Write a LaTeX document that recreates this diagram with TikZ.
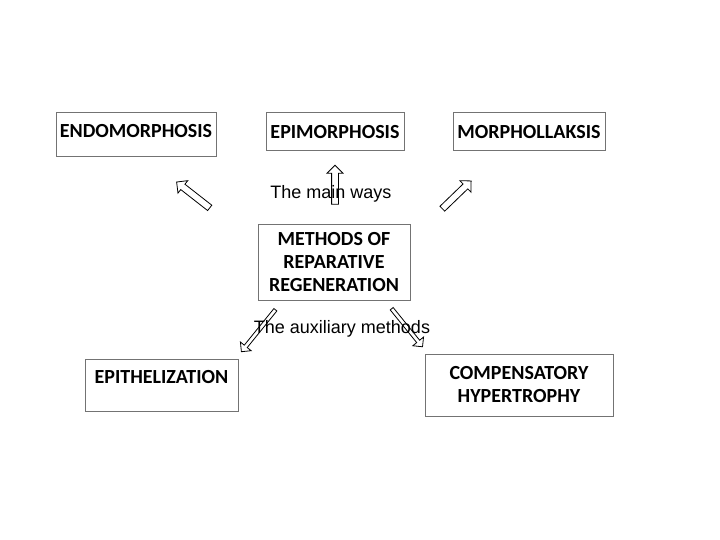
\documentclass[tikz,border=0pt]{standalone}
\usepackage{fontspec}
\setmainfont{Carlito}
\newfontfamily\arialfont{Liberation Sans}
\usetikzlibrary{shapes.arrows}

\tikzset{
  waybox/.style={draw=black!55, line width=1pt, align=center, inner sep=2pt,
    font=\fontsize{20}{23}\selectfont\bfseries},
  wayarrow/.style={draw, single arrow, line width=0.8pt, inner xsep=0pt, inner ysep=3pt,
    single arrow head extend=4.5pt, shape border uses incircle=false},
  thinarrow/.style={wayarrow, inner ysep=1.5pt, single arrow head extend=5pt},
  waylabel/.style={font=\arialfont\fontsize{18}{21}\selectfont, inner sep=0pt}
}

\begin{document}
\begin{tikzpicture}[x=1pt,y=-1pt]
  \useasboundingbox (0,0) rectangle (720,540);

  % top row
  \node (endo) [waybox, minimum width=160, minimum height=44, text depth=8pt] at (136,135) {ENDOMORPHOSIS};
  \node (epi) [waybox, minimum width=138, minimum height=38] at (335,132) {EPIMORPHOSIS};
  \node (morph) [waybox, minimum width=152, minimum height=38] at (529,132) {MORPHOLLAKSIS};

  \node (methods) [waybox, minimum width=152, minimum height=75] at (334,262.5)
    {METHODS OF\\REPARATIVE\\REGENERATION};

  % bottom row
  \node (epith) [waybox, minimum width=153, minimum height=52, text depth=17pt] at (161.5,385) {EPITHELIZATION};
  \node (comp) [waybox, minimum width=188, minimum height=62] at (519,385)
    {COMPENSATORY\\HYPERTROPHY};

  \node (mainways) [waylabel] at (331,194) {The main ways};
  \node (auxways) [waylabel] at (342,329) {The auxiliary methods};

  \node (toendo) [wayarrow, minimum height=42, rotate=142] at (194.5,196) {};
  \node (toepi) [wayarrow, minimum height=39, rotate=90] at (335,186.5) {};
  \node (tomorph) [wayarrow, minimum height=40, rotate=44] at (455.5,196) {};
  \node (toepith) [thinarrow, minimum height=54, rotate=231] at (259,330) {};
  \node (tocomp) [thinarrow, minimum height=49, rotate=-51] at (406.5,327) {};

\end{tikzpicture}
\end{document}
